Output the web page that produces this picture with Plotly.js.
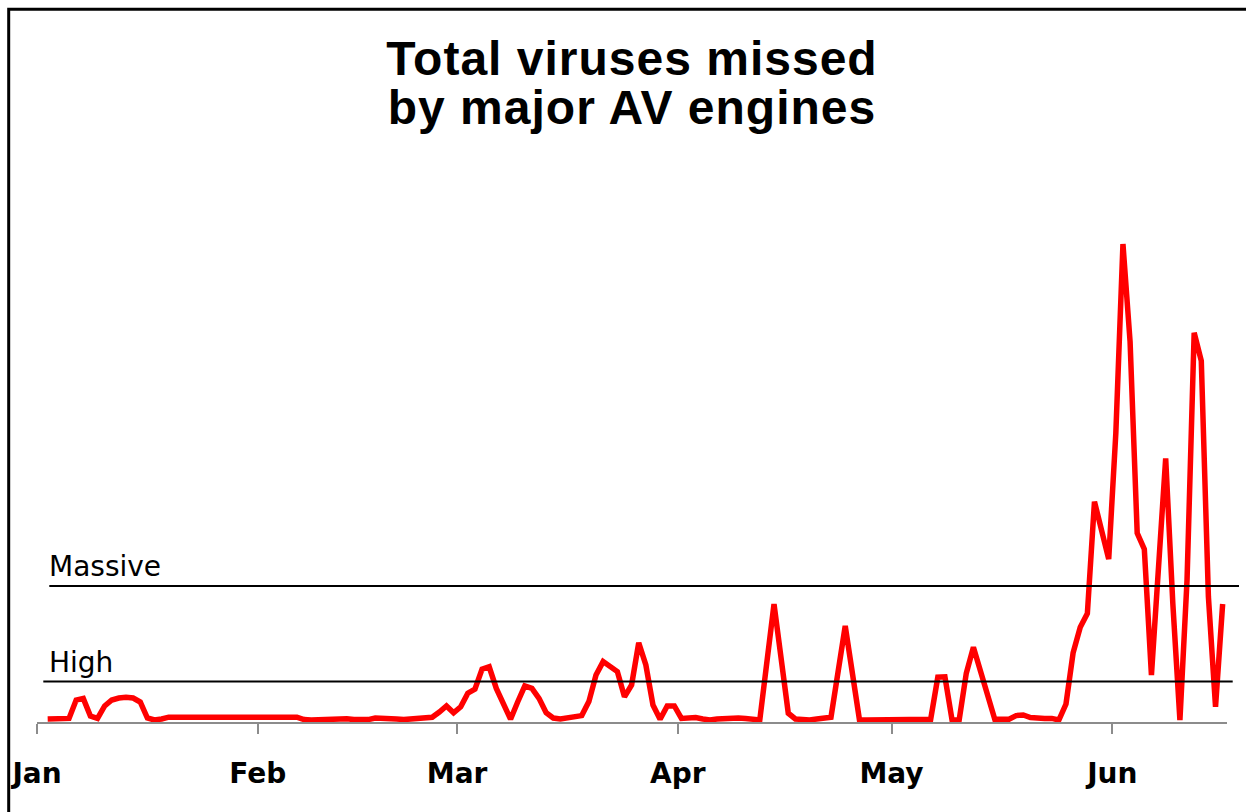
<!DOCTYPE html>
<html>
<head>
<meta charset="utf-8">
<script src="https://cdn.plot.ly/plotly-3.0.1.min.js"></script>
<style>
html,body{margin:0;padding:0;background:#fff;overflow:hidden;}
#chart{width:1246px;height:812px;}
.gtitle{letter-spacing:1px;}
</style>
</head>
<body>
<div id="chart"></div>
<script>
// Dates (daily, read at midday) and values of total viruses missed
const dates = [
 '2010-01-02','2010-01-03','2010-01-04','2010-01-05','2010-01-06','2010-01-07','2010-01-08','2010-01-09',
 '2010-01-10','2010-01-11','2010-01-12','2010-01-13','2010-01-14','2010-01-15','2010-01-16','2010-01-17',
 '2010-01-18','2010-01-19',
 '2010-02-06','2010-02-07','2010-02-08','2010-02-09','2010-02-10','2010-02-11','2010-02-12','2010-02-13',
 '2010-02-14','2010-02-15','2010-02-16','2010-02-17','2010-02-18','2010-02-19','2010-02-20','2010-02-21',
 '2010-02-22','2010-02-23','2010-02-24','2010-02-25','2010-02-26','2010-02-27','2010-02-28',
 '2010-03-01','2010-03-02','2010-03-03','2010-03-04','2010-03-05','2010-03-06','2010-03-07','2010-03-08',
 '2010-03-09','2010-03-10','2010-03-11','2010-03-12','2010-03-13','2010-03-14','2010-03-15','2010-03-16',
 '2010-03-17','2010-03-18','2010-03-19','2010-03-20','2010-03-21','2010-03-22','2010-03-23','2010-03-24',
 '2010-03-25','2010-03-26','2010-03-27','2010-03-28','2010-03-29','2010-03-30','2010-03-31',
 '2010-04-01','2010-04-02','2010-04-03','2010-04-04','2010-04-05','2010-04-06','2010-04-07','2010-04-08',
 '2010-04-09','2010-04-10','2010-04-11','2010-04-12','2010-04-14','2010-04-16','2010-04-17','2010-04-18',
 '2010-04-19','2010-04-20','2010-04-21','2010-04-22','2010-04-24','2010-04-26','2010-04-27','2010-04-29',
 '2010-05-02','2010-05-05','2010-05-06','2010-05-07','2010-05-08','2010-05-09','2010-05-10','2010-05-11',
 '2010-05-12','2010-05-15','2010-05-16','2010-05-17','2010-05-18','2010-05-19','2010-05-20','2010-05-21',
 '2010-05-22','2010-05-23','2010-05-24','2010-05-25','2010-05-26','2010-05-27','2010-05-28','2010-05-29',
 '2010-05-31',
 '2010-06-01','2010-06-02','2010-06-03','2010-06-04','2010-06-05','2010-06-06','2010-06-08','2010-06-09',
 '2010-06-10','2010-06-11','2010-06-12','2010-06-13','2010-06-14','2010-06-15','2010-06-16'
];
const missed = [
 0.25,0.3,0.3,0.4,5,5.4,1,0.4,
 3.5,5,5.5,5.7,5.5,4.5,0.5,0,
 0.25,0.7,
 0.7,0.1,0,0.1,0.25,0.4,0.5,0.3,
 0.1,0,0.1,0.5,0.5,0.4,0.25,0.1,
 0.2,0.25,0.4,0.7,2,3.5,1.8,
 3.3,6.7,7.7,12.7,13.3,7.9,4,0.2,
 4.5,8.5,7.9,5.4,1.8,0.5,0.25,0.5,
 0.8,1.1,4.6,11.25,14.6,13.3,12.1,5.8,
 8.75,19.3,13.75,3.75,0.2,3.5,3.5,
 0.4,0.5,0.6,0.25,0,0.25,0.4,0.6,
 0.5,0.4,0.1,0,29,1.7,0.25,0.1,
 0,0.25,0.4,0.7,23.5,0,0,0,
 0,0.1,0.2,10.7,10.8,0,0,11.7,
 18.2,0.2,0.2,0.2,1.1,1.25,0.6,0.4,
 0.4,0.4,0,4,16.8,23.2,26.6,54.6,
 40.2,
 71.7,119,94.6,46.7,42.7,11.25,65.4,29.2,
 0,35,96.8,89.8,30.8,3.3,29
];
const monthTicks = ['2010-01-01','2010-02-01','2010-03-01','2010-04-01','2010-05-01','2010-06-01'];
const monthLabels = ['Jan','Feb','Mar','Apr','May','Jun'];
const levelNames = ['Massive','High'];
const levelValues = [33.5, 9.6];

const xs = dates.map(d => d + ' 12:00');

const trace = {
  x: xs, y: missed, type: 'scatter', mode: 'lines',
  line: {color: '#ff0000', width: 5.5, shape: 'linear'},
  hoverinfo: 'skip', showlegend: false
};

// plot area: x 37..1227 px, y 220..722 px
const L = 37, R = 19, T = 220, B = 90;
const W = 1246 - L - R, H = 812 - T - B;
const px = v => (v - L) / W;
const py = v => (812 - B - v) / H;

const shapes = [
  // outer frame
  {type:'rect', xref:'paper', yref:'paper', x0: px(8.7), x1: 1.2, y0: -0.5, y1: py(9.3),
   line:{color:'#000', width:3}, fillcolor:'rgba(0,0,0,0)', layer:'above'},
  // Massive level
  {type:'line', xref:'paper', yref:'y', x0: px(49.3), x1: px(1239), y0: levelValues[0], y1: levelValues[0],
   line:{color:'#000', width:2}},
  // High level
  {type:'line', xref:'paper', yref:'y', x0: px(43.3), x1: px(1232.7), y0: levelValues[1], y1: levelValues[1],
   line:{color:'#000', width:2}}
];

const annotations = [
  {text: levelNames[0], xref:'paper', yref:'y', x: px(47), xanchor:'left', y: levelValues[0], yanchor:'bottom',
   yshift: 1, showarrow:false, font:{family:'DejaVu Sans', size:28, color:'#000'}},
  {text: levelNames[1], xref:'paper', yref:'y', x: px(47), xanchor:'left', y: levelValues[1], yanchor:'bottom',
   yshift: 1, showarrow:false, font:{family:'DejaVu Sans', size:28, color:'#000'}}
];

const layout = {
  width: 1246, height: 812,
  margin: {l: L, r: R, t: T, b: B, pad: 0},
  paper_bgcolor: '#fff', plot_bgcolor: '#fff',
  title: {
    text: '<span style="font-size:48px">Total viruses missed</span><br><span style="font-size:48px">by major AV engines</span>',
    font: {family: 'Liberation Sans, Arial, sans-serif', size: 37.5, color: '#000', weight: 'bold'},
    x: px(632), xref: 'paper', xanchor: 'center',
    y: 1 - 75/812, yref: 'container', yanchor: 'top'
  },
  xaxis: {
    type: 'date',
    range: ['2010-01-01', '2010-06-17 02:40'],
    tickmode: 'array', tickvals: monthTicks, ticktext: monthLabels,
    ticks: 'outside', ticklen: 10, tickwidth: 2, tickcolor: '#8c8c8c',
    ticklabelstandoff: 15,
    showline: true, linecolor: '#8c8c8c', linewidth: 2,
    showgrid: false, zeroline: false,
    tickfont: {family: 'DejaVu Sans', size: 28, color: '#000', weight: 'bold'},
    fixedrange: true
  },
  yaxis: {
    range: [-0.5, 125],
    visible: false, showgrid: false, zeroline: false, fixedrange: true
  },
  shapes: shapes,
  annotations: annotations
};

Plotly.newPlot('chart', [trace], layout, {displayModeBar: false, staticPlot: true});
</script>
</body>
</html>
